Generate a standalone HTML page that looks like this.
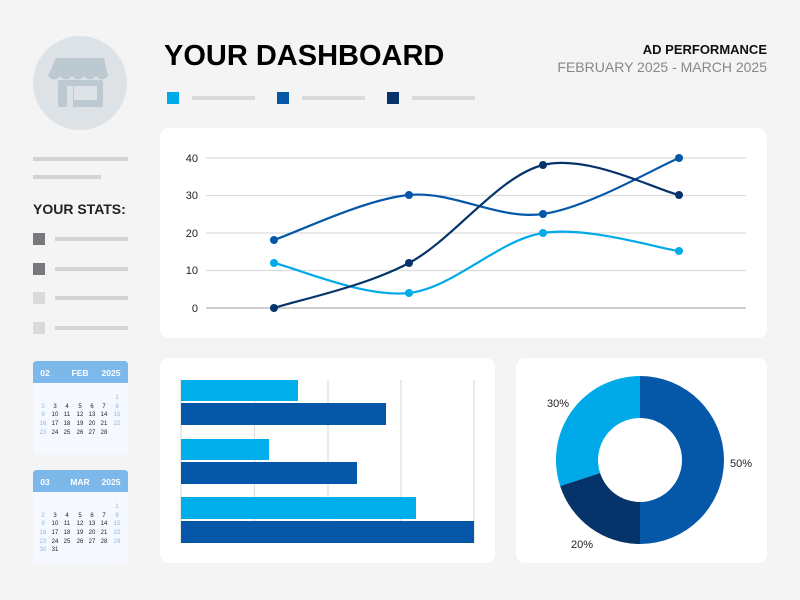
<!DOCTYPE html>
<html><head><meta charset="utf-8"><style>
body{margin:0;background:#f4f4f4;}
svg{display:block;font-family:"Liberation Sans",sans-serif;}
</style></head><body>
<svg width="800" height="600" viewBox="0 0 800 600" xmlns="http://www.w3.org/2000/svg">
<rect width="800" height="600" fill="#f4f4f4"/>
<!-- avatar -->
<circle cx="80" cy="83" r="47" fill="#dce2e6"/>
<path d="M56 58 h48 l4 18 q-6 7 -12 0 q-6 7 -12 0 q-6 7 -12 0 q-6 7 -12 0 q-6 7 -12 0 z" fill="#bcc9d1"/>
<rect x="58" y="80" width="45" height="27" rx="2" fill="#bcc9d1"/>
<rect x="74" y="86" width="23" height="14" fill="#dce2e6"/>
<rect x="67" y="86" width="6" height="21" fill="#dce2e6"/>
<!-- side lines -->
<rect x="33" y="157" width="95" height="4" fill="#d4d4d4"/>
<rect x="33" y="175" width="68" height="4" fill="#d4d4d4"/>
<text x="33" y="214" font-size="14" font-weight="bold" fill="#222">YOUR STATS:</text>
<rect x="33" y="233" width="12" height="12" fill="#77797c"/><rect x="55" y="237" width="73" height="4" fill="#d4d4d4"/>
<rect x="33" y="263" width="12" height="12" fill="#77797c"/><rect x="55" y="267" width="73" height="4" fill="#d4d4d4"/>
<rect x="33" y="292" width="12" height="12" fill="#dadada"/><rect x="55" y="296" width="73" height="4" fill="#d4d4d4"/>
<rect x="33" y="322" width="12" height="12" fill="#dadada"/><rect x="55" y="326" width="73" height="4" fill="#d4d4d4"/>
<!-- calendars -->
<g font-size="6" text-anchor="middle" fill="#222">
<rect x="33" y="361" width="95" height="94" rx="4" fill="#f5f9ff"/>
<path d="M33 383 V365 q0 -4 4 -4 h87 q4 0 4 4 V383 z" fill="#7db8ea"/>
<text x="45" y="376" font-size="8.5" font-weight="bold" fill="#fff">02</text>
<text x="80" y="376" font-size="8.5" font-weight="bold" fill="#fff">FEB</text>
<text x="111" y="376" font-size="8.5" font-weight="bold" fill="#fff">2025</text>
<g fill="#bbb"><text x="43" y="390">·</text><text x="55" y="390">·</text><text x="67" y="390">·</text><text x="80" y="390">·</text><text x="92" y="390">·</text><text x="104" y="390">·</text><text x="117" y="390">·</text></g>
<text x="117" y="399" fill="#8bb8e6">1</text>
<text x="43" y="408" fill="#8bb8e6">2</text><text x="55" y="408">3</text><text x="67" y="408">4</text><text x="80" y="408">5</text><text x="92" y="408">6</text><text x="104" y="408">7</text><text x="117" y="408" fill="#8bb8e6">8</text>
<text x="43" y="416" fill="#8bb8e6">9</text><text x="55" y="416">10</text><text x="67" y="416">11</text><text x="80" y="416">12</text><text x="92" y="416">13</text><text x="104" y="416">14</text><text x="117" y="416" fill="#8bb8e6">15</text>
<text x="43" y="425" fill="#8bb8e6">16</text><text x="55" y="425">17</text><text x="67" y="425">18</text><text x="80" y="425">19</text><text x="92" y="425">20</text><text x="104" y="425">21</text><text x="117" y="425" fill="#8bb8e6">22</text>
<text x="43" y="434" fill="#8bb8e6">23</text><text x="55" y="434">24</text><text x="67" y="434">25</text><text x="80" y="434">26</text><text x="92" y="434">27</text><text x="104" y="434">28</text>

<rect x="33" y="470" width="95" height="94" rx="4" fill="#f5f9ff"/>
<path d="M33 492 V474 q0 -4 4 -4 h87 q4 0 4 4 V492 z" fill="#7db8ea"/>
<text x="45" y="485" font-size="8.5" font-weight="bold" fill="#fff">03</text>
<text x="80" y="485" font-size="8.5" font-weight="bold" fill="#fff">MAR</text>
<text x="111" y="485" font-size="8.5" font-weight="bold" fill="#fff">2025</text>
<g fill="#bbb"><text x="43" y="499">·</text><text x="55" y="499">·</text><text x="67" y="499">·</text><text x="80" y="499">·</text><text x="92" y="499">·</text><text x="104" y="499">·</text><text x="117" y="499">·</text></g>
<text x="117" y="508" fill="#8bb8e6">1</text>
<text x="43" y="517" fill="#8bb8e6">2</text><text x="55" y="517">3</text><text x="67" y="517">4</text><text x="80" y="517">5</text><text x="92" y="517">6</text><text x="104" y="517">7</text><text x="117" y="517" fill="#8bb8e6">8</text>
<text x="43" y="525" fill="#8bb8e6">9</text><text x="55" y="525">10</text><text x="67" y="525">11</text><text x="80" y="525">12</text><text x="92" y="525">13</text><text x="104" y="525">14</text><text x="117" y="525" fill="#8bb8e6">15</text>
<text x="43" y="534" fill="#8bb8e6">16</text><text x="55" y="534">17</text><text x="67" y="534">18</text><text x="80" y="534">19</text><text x="92" y="534">20</text><text x="104" y="534">21</text><text x="117" y="534" fill="#8bb8e6">22</text>
<text x="43" y="543" fill="#8bb8e6">23</text><text x="55" y="543">24</text><text x="67" y="543">25</text><text x="80" y="543">26</text><text x="92" y="543">27</text><text x="104" y="543">28</text><text x="117" y="543" fill="#8bb8e6">29</text>
<text x="43" y="551" fill="#8bb8e6">30</text><text x="55" y="551">31</text>
</g>
<!-- header -->
<text x="164" y="65" font-size="29" font-weight="bold" fill="#000">YOUR DASHBOARD</text>
<text x="767" y="54" font-size="13" font-weight="bold" fill="#111" text-anchor="end">AD PERFORMANCE</text>
<text x="767" y="72" font-size="14" fill="#888" text-anchor="end">FEBRUARY 2025 - MARCH 2025</text>
<rect x="167" y="92" width="12" height="12" fill="#00aae9"/><rect x="192" y="96" width="63" height="4" fill="#dadada"/>
<rect x="277" y="92" width="12" height="12" fill="#0558a8"/><rect x="302" y="96" width="63" height="4" fill="#dadada"/>
<rect x="387" y="92" width="12" height="12" fill="#06346a"/><rect x="412" y="96" width="63" height="4" fill="#dadada"/>
<!-- line chart card -->
<rect x="160" y="128" width="607" height="210" rx="9" fill="#fff"/>
<g stroke="#dcdcdc" stroke-width="1.2">
<line x1="206" y1="158" x2="746" y2="158"/><line x1="206" y1="195.5" x2="746" y2="195.5"/>
<line x1="206" y1="233" x2="746" y2="233"/><line x1="206" y1="270.5" x2="746" y2="270.5"/>
</g>
<line x1="206" y1="308" x2="746" y2="308" stroke="#bdbdbd" stroke-width="1.5"/>
<g font-size="11" fill="#222" text-anchor="end">
<text x="198" y="162">40</text><text x="198" y="199">30</text><text x="198" y="237">20</text><text x="198" y="274">10</text><text x="198" y="312">0</text>
</g>
<g fill="none" stroke-width="2.2">
<path d="M274 263 C296.5 268 364.2 298 409 293 C453.8 288 498 240 543 233 C588 226 656.3 248 679 251" stroke="#00aae9"/>
<path d="M274 240 C296.5 232.5 364.2 199.3 409 195 C453.8 190.7 498 220.2 543 214 C588 207.8 656.3 167.3 679 158" stroke="#0558a8"/>
<path d="M274 308 C296.5 300.5 364.2 286.8 409 263 C453.8 239.2 498 176.3 543 165 C588 153.7 656.3 190 679 195" stroke="#06346a"/>
</g>
<g fill="#00aae9"><circle cx="274" cy="263" r="4"/><circle cx="409" cy="293" r="4"/><circle cx="543" cy="233" r="4"/><circle cx="679" cy="251" r="4"/></g>
<g fill="#0558a8"><circle cx="274" cy="240" r="4"/><circle cx="409" cy="195" r="4"/><circle cx="543" cy="214" r="4"/><circle cx="679" cy="158" r="4"/></g>
<g fill="#06346a"><circle cx="274" cy="308" r="4"/><circle cx="409" cy="263" r="4"/><circle cx="543" cy="165" r="4"/><circle cx="679" cy="195" r="4"/></g>
<!-- bar card -->
<rect x="160" y="358" width="335" height="205" rx="9" fill="#fff"/>
<g stroke="#dcdcdc" stroke-width="1.2">
<line x1="181" y1="380" x2="181" y2="543"/><line x1="254.5" y1="380" x2="254.5" y2="543"/><line x1="328" y1="380" x2="328" y2="543"/><line x1="401" y1="380" x2="401" y2="543"/><line x1="474" y1="380" x2="474" y2="543"/>
</g>
<rect x="181" y="380" width="117" height="21" fill="#00aee9"/>
<rect x="181" y="403" width="205" height="22" fill="#0558a8"/>
<rect x="181" y="439" width="88" height="21" fill="#00aee9"/>
<rect x="181" y="462" width="176" height="22" fill="#0558a8"/>
<rect x="181" y="497" width="235" height="22" fill="#00aee9"/>
<rect x="181" y="521" width="293" height="22" fill="#0558a8"/>
<!-- donut card -->
<rect x="516" y="358" width="251" height="205" rx="9" fill="#fff"/>
<path d="M640 376 A84 84 0 0 1 640 544 L640 502 A42 42 0 0 0 640 418 Z" fill="#0558a8"/>
<path d="M640 544 A84 84 0 0 1 560.1 486 L600.1 473 A42 42 0 0 0 640 502 Z" fill="#06346a"/>
<path d="M560.1 486 A84 84 0 0 1 640 376 L640 418 A42 42 0 0 0 600.1 473 Z" fill="#00aae9"/>
<g font-size="11" fill="#222">
<text x="547" y="407">30%</text><text x="730" y="467">50%</text><text x="571" y="548">20%</text>
</g>
</svg>
</body></html>
